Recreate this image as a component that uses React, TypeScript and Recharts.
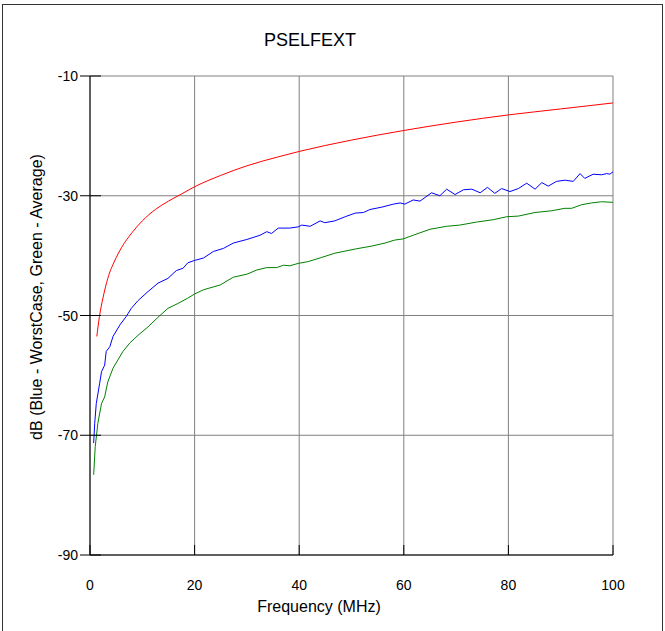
import React from 'react';
import {
  LineChart,
  Line,
  XAxis,
  YAxis,
  CartesianGrid
} from 'recharts';

// frequency (MHz) / dB readings taken off the plot
const redFreq = [1.3, 1.8, 2.5, 3.4, 4.7, 6, 8, 10, 12.5, 15, 17.5, 20, 25, 30, 36, 40, 50, 60, 70, 80, 90, 100];
const redDb = [-53.5, -50.2, -47, -43.8, -40.9, -38.7, -36.2, -34.2, -32.3, -30.9, -29.7, -28.5, -26.6, -25.0, -23.5, -22.6, -20.7, -19.1, -17.7, -16.5, -15.5, -14.5];

const blueFreq = [0.7, 0.9, 1.2, 1.85, 2.2, 2.8, 3.1, 3.8, 4.4, 5.7, 6.9, 7.9, 9.2, 11.1, 13.0, 14.9, 16.5, 17.8, 18.7, 20.0, 21.7, 23.6, 25.5, 27.4, 30.0, 32.5, 33.8, 34.7, 36.0, 38.2, 39.8, 40.5, 42.1, 44.0, 44.9, 46.8, 48.8, 50.7, 52.3, 53.5, 55.8, 58.0, 59.3, 60.2, 61.8, 63.1, 65.3, 66.9, 68.2, 69.8, 71.4, 73.0, 74.6, 76.0, 77.4, 78.7, 80.3, 81.9, 83.5, 85.1, 86.4, 87.6, 89.2, 90.8, 92.4, 93.7, 94.6, 96.2, 97.8, 98.8, 99.4, 100];
const blueDb = [-71.3, -68.0, -64.7, -61.3, -59.4, -58.3, -56.0, -55.2, -53.5, -51.6, -50.2, -48.8, -47.5, -46.0, -44.6, -43.8, -42.5, -42.1, -41.2, -40.8, -40.4, -39.3, -38.8, -37.9, -37.3, -36.6, -36.0, -36.3, -35.4, -35.4, -35.2, -34.9, -35.1, -34.2, -34.5, -34.2, -33.5, -32.9, -32.8, -32.3, -31.9, -31.4, -31.2, -31.4, -30.7, -30.9, -29.5, -30.0, -28.9, -29.8, -29.0, -28.9, -29.5, -28.6, -29.6, -28.8, -29.3, -28.8, -27.9, -28.9, -27.8, -28.4, -27.6, -27.4, -27.6, -26.3, -27.1, -26.4, -26.5, -26.3, -26.4, -26.0];

const greenFreq = [0.7, 1.0, 1.5, 2.2, 2.8, 3.4, 4.4, 5.35, 6.3, 7.6, 9.2, 11.1, 13.0, 14.9, 16.8, 18.7, 20.0, 21.7, 24.9, 27.4, 30.0, 31.9, 33.8, 35.7, 37.0, 38.2, 39.8, 41.7, 44.3, 46.8, 50.7, 53.9, 56.4, 58.3, 59.9, 61.8, 65.0, 68.2, 70.7, 73.9, 77.1, 79.7, 81.9, 85.1, 88.3, 90.8, 92.1, 94.0, 95.9, 97.8, 100];
const greenDb = [-76.6, -71.9, -68.0, -64.7, -63.6, -61.1, -58.8, -57.4, -56.0, -54.6, -53.3, -51.9, -50.3, -48.8, -48.0, -47.1, -46.4, -45.7, -44.9, -43.6, -43.1, -42.4, -42.0, -42.0, -41.6, -41.7, -41.3, -41.0, -40.3, -39.6, -38.9, -38.4, -37.9, -37.4, -37.2, -36.6, -35.6, -35.1, -34.9, -34.4, -34.0, -33.5, -33.4, -32.8, -32.5, -32.1, -32.1, -31.5, -31.2, -31.0, -31.1];

const xTicks = [0, 20, 40, 60, 80, 100];
const yTicks = [-90, -70, -50, -30, -10];

const toRows = (f: number[], db: number[]) => f.map((v, i) => ({ f: v, db: db[i] }));

const redData = toRows(redFreq, redDb);
const blueData = toRows(blueFreq, blueDb);
const greenData = toRows(greenFreq, greenDb);

const FONT = '"Liberation Sans", Arial, sans-serif';

const YTick = (props: any) => {
  const { x, y, payload } = props;
  return (
    <g>
      <line x1={x - 10} x2={x + 11} y1={y} y2={y} stroke="#000" />
      <text x={x - 12} y={y} dy={5} textAnchor="end" fontSize={14} fontFamily={FONT} fill="#000">
        {payload.value}
      </text>
    </g>
  );
};

const XTick = (props: any) => {
  const { x, y, payload } = props;
  return (
    <g>
      <line x1={x} x2={x} y1={y} y2={y - 10} stroke="#000" />
      <text x={x} y={y + 35} textAnchor="middle" fontSize={14} fontFamily={FONT} fill="#000">
        {payload.value}
      </text>
    </g>
  );
};

export default function App() {
  return (
    <div style={{ position: 'absolute', left: 0, top: 0, width: 665, height: 631, overflow: 'hidden', background: '#fff', fontFamily: FONT }}>
      <div style={{ position: 'absolute', left: 2, top: 4, width: 659, height: 660, border: '1px solid #333' }} />
      <div style={{ position: 'absolute', left: 0, top: 0 }}>
        <LineChart
          width={665}
          height={631}
          margin={{ top: 76, right: 52, bottom: 46, left: 30 }}
        >
          <CartesianGrid stroke="#808080" horizontalValues={yTicks} verticalValues={xTicks} />
          <XAxis
            type="number"
            dataKey="f"
            domain={[0, 100]}
            ticks={xTicks}
            height={30}
            tickSize={0}
            tickMargin={0}
            tickLine={false}
            axisLine={{ stroke: '#000' }}
            tick={<XTick />}
            interval={0}
          />
          <YAxis
            type="number"
            dataKey="db"
            domain={[-90, -10]}
            ticks={yTicks}
            width={60}
            tickSize={0}
            tickMargin={0}
            tickLine={false}
            axisLine={{ stroke: '#000' }}
            tick={<YTick />}
            interval={0}
          />
          <Line data={greenData} dataKey="db" stroke="#008000" strokeWidth={1} dot={false} isAnimationActive={false} type="linear" />
          <Line data={blueData} dataKey="db" stroke="#0000ff" strokeWidth={1} dot={false} isAnimationActive={false} type="linear" />
          <Line data={redData} dataKey="db" stroke="#ff0000" strokeWidth={1} dot={false} isAnimationActive={false} type="monotone" />
        </LineChart>
      </div>
      <div style={{ position: 'absolute', left: 210, top: 30, width: 200, textAlign: 'center', fontSize: 18, lineHeight: '20px', color: '#000' }}>
        PSELFEXT
      </div>
      <div style={{ position: 'absolute', left: 219, top: 598, width: 200, textAlign: 'center', fontSize: 16, lineHeight: '18px', color: '#000' }}>
        Frequency (MHz)
      </div>
      <div style={{ position: 'absolute', left: 37 - 170, top: 297 - 10, width: 340, height: 20, textAlign: 'center', fontSize: 16, lineHeight: '20px', color: '#000', transform: 'rotate(-90deg)', transformOrigin: '50% 50%', whiteSpace: 'nowrap' }}>
        dB (Blue - WorstCase, Green - Average)
      </div>
    </div>
  );
}
